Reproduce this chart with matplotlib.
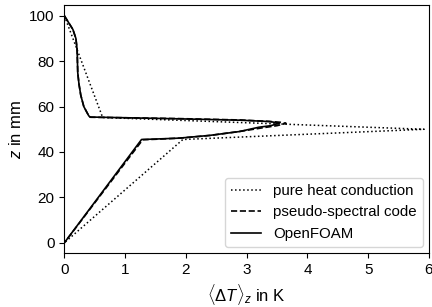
import matplotlib
matplotlib.use("Agg")
import matplotlib.pyplot as plt

plt.rcParams["font.family"] = ["Liberation Sans", "DejaVu Sans"]
plt.rcParams["mathtext.fontset"] = "custom"
plt.rcParams["mathtext.rm"] = "Liberation Sans"
plt.rcParams["mathtext.it"] = "Liberation Sans:italic"

# pure heat conduction profile
cond_T = [0.0, 0.63, 5.92, 1.95, 0.0]
cond_z = [100, 55.2, 50, 45.5, 0]

# pseudo-spectral code profile
ps_T = [0.0, 0.07, 0.14, 0.19, 0.21, 0.215, 0.22, 0.24, 0.27, 0.32, 0.40, 0.43,
        1.9, 2.9, 3.35, 3.55, 3.65, 3.5, 3.25, 2.9, 2.4, 1.9, 1.5, 1.29, 0.0]
ps_z = [100, 97, 94, 90, 85, 80, 75, 70, 65, 60, 56, 55.3,
        54.7, 54.1, 53.5, 53.1, 52.6, 51.6, 50.6, 49.1, 47.3, 46.1, 45.6, 45.4, 0]

# OpenFOAM profile
of_T = [0.0, 0.07, 0.14, 0.19, 0.21, 0.215, 0.22, 0.24, 0.27, 0.32, 0.40, 0.42,
        1.9, 2.9, 3.38, 3.54, 3.4, 3.2, 2.88, 2.39, 1.89, 1.5, 1.27, 0.0]
of_z = [100, 97, 94, 90, 85, 80, 75, 70, 65, 60, 56, 55.4,
        54.6, 54.0, 53.4, 52.7, 51.6, 50.9, 49.0, 47.3, 46.1, 45.7, 45.5, 0]

fig = plt.figure(figsize=(4.32, 3.07), dpi=100)
ax = fig.add_axes([0.149, 0.176, 0.844, 0.808])

ax.plot(cond_T, cond_z, color="black", ls=":", lw=1.1, label="pure heat conduction")
ax.plot(ps_T, ps_z, color="black", ls="--", lw=1.2, label="pseudo-spectral code")
ax.plot(of_T, of_z, color="black", ls="-", lw=1.2, label="OpenFOAM")

ax.set_xlim(0, 6)
ax.set_ylim(-4.5, 104.8)
ax.set_xticks(range(0, 7))
ax.set_yticks(range(0, 101, 20))
ax.tick_params(labelsize=11, length=3.5, width=0.8)
ax.set_xlabel(r"$\langle \Delta T \rangle_z$ in K", fontsize=12)
ax.set_ylabel(r"$z$ in mm", fontsize=12)

ax.legend(loc="lower right", fontsize=10.8, frameon=True, fancybox=True,
          edgecolor="#cccccc", handlelength=2.0, borderaxespad=0.4)

fig.savefig("out.png", dpi=100)
